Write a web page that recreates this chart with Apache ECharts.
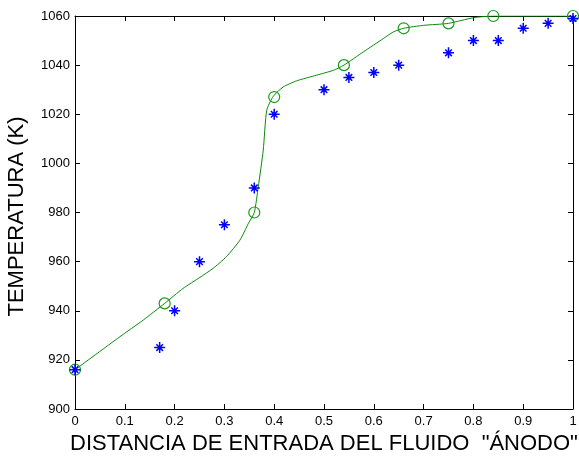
<!DOCTYPE html>
<html>
<head>
<meta charset="utf-8">
<script src="https://cdn.jsdelivr.net/npm/echarts@6/dist/echarts.min.js"></script>
<style>
html,body{margin:0;padding:0;background:#fff;}
#chart{width:579px;height:458px;}
</style>
</head>
<body>
<div id="chart"></div>
<script>
// Measured data (asterisks)
var xStar = [0, 0.17, 0.2, 0.25, 0.3, 0.36, 0.4, 0.5, 0.55, 0.6, 0.65, 0.75, 0.8, 0.85, 0.9, 0.95, 1];
var yStar = [916, 925, 940, 960, 975, 990, 1020, 1030, 1035, 1037, 1040, 1045, 1050, 1050, 1055, 1057, 1059];
// Model points (circles)
var xCircle = [0, 0.18, 0.36, 0.4, 0.54, 0.66, 0.75, 0.84, 1];
var yCircle = [916, 943, 980, 1027, 1040, 1055, 1057, 1060, 1060];
// Fitted curve
var xCurve = [0, 0.045, 0.09, 0.137, 0.18, 0.217, 0.251, 0.277, 0.304, 0.331, 0.348, 0.36, 0.368, 0.378, 0.385, 0.398, 0.418, 0.445, 0.485, 0.519, 0.54, 0.579, 0.619, 0.639, 0.66, 0.70, 0.75, 0.80, 0.84, 1];
var yCurve = [916, 922.7, 929.4, 936.2, 943, 949.1, 953.6, 957.2, 962, 968.7, 975.5, 980, 990.4, 1005.4, 1021.6, 1027.3, 1031.1, 1033.6, 1035.9, 1037.9, 1040, 1045.4, 1050.8, 1053.5, 1055, 1056.2, 1057, 1059.3, 1060, 1060];
// Axes
var xMin = 0, xMax = 1, xStep = 0.1;
var yMin = 900, yMax = 1060, yStep = 20;
var xTitle = 'DISTANCIA DE ENTRADA DEL FLUIDO  "ÁNODO"';
var yTitle = 'TEMPERATURA (K)';

function zip(a, b) { return a.map(function (v, i) { return [v, b[i]]; }); }

var font = 'Liberation Sans, Arial, sans-serif';
var axisLine = { show: true, onZero: false, lineStyle: { color: '#000', width: 1 } };
var tickIn = { show: true, inside: true, length: 5, lineStyle: { color: '#000', width: 1 } };

var chart = echarts.init(document.getElementById('chart'), null, { renderer: 'canvas' });
chart.setOption({
  animation: false,
  backgroundColor: '#fff',
  grid: { left: 75, right: 6, top: 16, bottom: 49, containLabel: false, outerBoundsMode: 'none' },
  xAxis: [{
    type: 'value', min: xMin, max: xMax, interval: xStep, position: 'bottom',
    axisLine: axisLine, axisTick: tickIn, splitLine: { show: false },
    axisLabel: { color: '#000', fontSize: 13, fontFamily: font, margin: 6,
      formatter: function (v) { return String(+v.toFixed(1)); } },
    name: xTitle, nameLocation: 'middle', nameGap: 22,
    nameTextStyle: { color: '#000', fontSize: 22, fontFamily: font }
  }, {
    type: 'value', min: xMin, max: xMax, interval: xStep, position: 'top',
    axisLine: axisLine, axisTick: tickIn, axisLabel: { show: false }, splitLine: { show: false }
  }],
  yAxis: [{
    type: 'value', min: yMin, max: yMax, interval: yStep, position: 'left',
    axisLine: axisLine, axisTick: tickIn, splitLine: { show: false },
    axisLabel: { color: '#000', fontSize: 13, fontFamily: font, margin: 5,
      formatter: function (v) { return String(v); } },
    name: yTitle, nameLocation: 'middle', nameGap: 47, nameRotate: 90,
    nameTextStyle: { color: '#000', fontSize: 22, fontFamily: font, padding: [0, 8, 0, 0] }
  }, {
    type: 'value', min: yMin, max: yMax, interval: yStep, position: 'right',
    axisLine: axisLine, axisTick: tickIn, axisLabel: { show: false }, splitLine: { show: false }
  }],
  series: [{
    type: 'line', data: zip(xCurve, yCurve), showSymbol: false, symbol: 'none',
    smooth: 0.2, lineStyle: { color: '#0a8a0a', width: 1 }, z: 2, silent: true
  }, {
    type: 'scatter', data: zip(xCircle, yCircle), symbol: 'circle', symbolSize: 11,
    itemStyle: { color: 'rgba(0,0,0,0)', borderColor: '#1a9a1a', borderWidth: 1.2, opacity: 1 },
    z: 3
  }, {
    type: 'scatter', data: zip(xStar, yStar),
    symbol: 'path://M0,5 L10,5 M5,0 L5,10 M2,2 L8,8 M8,2 L2,8',
    symbolSize: 11,
    itemStyle: { color: 'rgba(0,0,0,0)', borderColor: '#0000ff', borderWidth: 1.5, opacity: 1 },
    z: 4
  }]
});
</script>
</body>
</html>
